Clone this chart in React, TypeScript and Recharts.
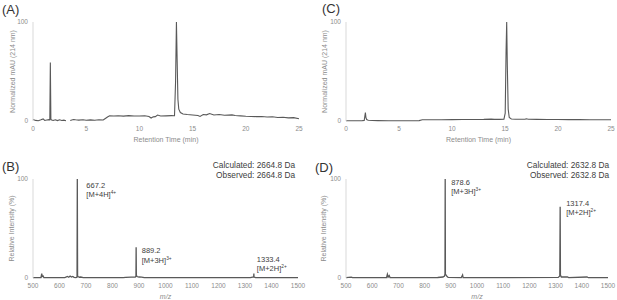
import { Label, Line, LineChart, ReferenceDot, XAxis, YAxis } from 'recharts';

// HPLC traces: retention time (min) vs normalized mAU
const chromATime = [
  0, 0.25, 0.5, 0.75, 0.95, 1.1, 1.3, 1.5, 1.58, 1.63, 1.68, 1.75, 1.9, 2.1, 2.3, 2.5, 2.7, 2.9, 3.1, 3.3,
  3.5, 3.8, 4.0, 4.3, 4.7, 5.0, 5.4, 5.8, 6.2, 6.6, 6.8, 7.0, 7.2, 7.6, 8.0, 8.5, 9.0, 9.5, 10.0, 10.5,
  10.9, 11.1, 11.3, 11.5, 11.7, 12.0, 12.5, 13.0, 13.3, 13.4, 13.48, 13.55, 13.62, 13.7, 13.85, 14.1,
  14.5, 15.0, 15.5, 15.7, 16.0, 16.3, 16.6, 17.0, 17.5, 18.0, 18.7, 19.0, 19.5, 20.0, 20.5, 21.0, 21.5,
  22.0, 22.5, 23.0, 23.5, 24.0, 24.5, 25.0,
];
const chromAValue = [
  1.5, 0.6, 0.3, 1.2, 2.1, 0.5, 1.0, 1.4, 1.2, 59, 1.8, 1.0, 0.6, 1.3, 0.4, 1.2, 0.5, 0.9, 0.3, null,
  0.6, 1.5, 1.2, 0.9, 1.3, 0.8, 1.1, 0.7, 1.2, 1.0, 2.5, 4.0, 5.2, 5.0, 5.3, 4.9, 5.4, 5.1, 5.0, 5.3,
  4.6, 3.0, 4.2, 4.4, 6.0, 5.0, 5.2, 5.4, 5.3, 40, 100, 60, 22, 12, 8.5, 7.0,
  6.5, 6.0, 5.5, 4.6, 6.5, 6.2, 7.5, 6.0, 6.6, 5.8, 6.2, 5.5, 5.2, 4.8, 4.6, 4.4, 4.5,
  4.0, 4.3, 3.6, 3.8, 3.2, 3.4, 2.3,
];

const chromCTime = [
  0, 0.5, 1.0, 1.5, 1.72, 1.78, 1.83, 1.88, 1.95, 2.1, 2.5, 3.0, 4.0, 5.0, 6.0, 6.9, 7.2, 8.0, 9.0, 10.0,
  11.0, 12.0, 13.0, 13.7, 14.0, 14.5, 14.9, 15.02, 15.1, 15.16, 15.22, 15.3, 15.4, 15.6, 16.0, 16.5,
  16.9, 17.0, 17.2, 18.0, 19.0, 20.0, 21.0, 22.0, 23.0, 24.0, 25.0,
];
const chromCValue = [
  0.2, 0.3, 0.2, 0.3, 0.6, 5, 8.5, 3.5, 1.4, 0.7, 0.5, 0.4, 0.3, 0.2, 0.3, 0.4, 1.2, 1.3, 1.3, 1.4,
  1.5, 1.5, 1.6, 1.9, 1.6, 1.6, 1.8, 8, 70, 100, 55, 12, 3.5, 2.0, 1.8, 1.7,
  1.8, 2.3, 1.7, 1.6, 1.5, 1.5, 1.4, 1.4, 1.3, 1.3, 1.2,
];

// ESI-MS spectra: m/z vs relative intensity (%)
const specBMz = [
  500, 530, 533, 535, 538, 541, 560, 620, 630, 635, 640, 645, 650, 655, 662, 666.2, 667.2, 668.2, 670,
  675, 680, 690, 700, 840, 850, 870, 886, 888.5, 889.2, 890, 892, 900, 910, 920, 1320, 1332.8, 1333.4,
  1334, 1340, 1500,
];
const specBInt = [
  0.3, 0.3, 4.5, 1.5, 2, 0.5, 0.3, 0.3, 1.5, 0.8, 2, 1, 1.5, 0.6, 0.4, 1, 100, 2, 1.5,
  0.8, 1, 0.4, 0.3, 0.3, 0.6, 0.8, 1, 2, 31, 3, 1.5, 1, 0.8, 0.3, 0.3, 1, 4.4,
  1, 0.3, 0.3,
];

const specDMz = [
  500, 520, 525, 655, 658, 661, 665, 668, 700, 850, 870, 876, 877.8, 878.6, 879.4, 882, 886, 890, 940,
  945, 947, 1000, 1310, 1316, 1317.4, 1318.4, 1322, 1345, 1350, 1420, 1425, 1500,
];
const specDInt = [
  0.3, 0.8, 0.3, 0.5, 3.7, 1, 2.5, 0.5, 0.3, 0.5, 1, 2, 4, 100, 4, 3, 1.5, 0.6, 0.4,
  3, 0.4, 0.3, 0.6, 2, 72, 3, 1, 1, 0.4, 1, 0.3, 0.3,
];

const timeTicks = [0, 5, 10, 15, 20, 25];
const mzTicks = [500, 600, 700, 800, 900, 1000, 1100, 1200, 1300, 1400, 1500];
const yTicks = [0, 100];

const peaksBMz = [667.2, 889.2, 1333.4];
const peaksBIon = ['[M+4H]', '[M+3H]', '[M+2H]'];
const peaksBCharge = ['4+', '3+', '2+'];
const peaksDMz = [878.6, 1317.4];
const peaksDIon = ['[M+3H]', '[M+2H]'];
const peaksDCharge = ['3+', '2+'];

const calculatedMass = ['2664.8', '2632.8'];
const observedMass = ['2664.8', '2632.8'];

const FONT = '"Liberation Sans", Arial, sans-serif';
const LINE = '#595959';
const AXIS = '#d9d9d9';
const TICK = '#8c8c8c';
const NOTE = '#404040';

const zip = (xs: number[], ys: (number | null)[]) => xs.map((x, i) => ({ x, y: ys[i] }));

const yTitle = (text: string, cx: number) => (props: any) => {
  const vb = props.viewBox || {};
  const cy = (vb.y ?? 0) + (vb.height ?? 0) / 2;
  return (
    <text
      x={cx}
      y={cy}
      transform={`rotate(-90 ${cx} ${cy})`}
      textAnchor='middle'
      dominantBaseline='central'
      fontSize={7}
      fill={TICK}
      fontFamily={FONT}
    >
      {text}
    </text>
  );
};

const peakLabel = (mz: number, ion: string, charge: string, dx: number, dy: number) => (props: any) => {
  const vb = props.viewBox || {};
  const x = (vb.x ?? 0) + (vb.width ?? 0) / 2 + dx;
  const y = (vb.y ?? 0) + (vb.height ?? 0) / 2 + dy;
  return (
    <text x={x} y={y} fontSize={7.5} fill={NOTE} fontFamily={FONT}>
      <tspan x={x}>{mz.toFixed(1)}</tspan>
      <tspan x={x} dy={9.5}>
        {ion}
        <tspan fontSize={4.8} dy={-3}>
          {charge}
        </tspan>
      </tspan>
    </text>
  );
};

function Chromatogram({ data, width, yWidth, right, titleX }: any) {
  return (
    <LineChart width={width} height={150} data={data} margin={{ top: 22, right, bottom: 0, left: 0 }}>
      <XAxis
        dataKey='x'
        type='number'
        domain={[0, 25]}
        ticks={timeTicks}
        interval={0}
        axisLine={false}
        tickLine={false}
        tickSize={0}
        tickMargin={5}
        height={29}
        tick={{ fontSize: 6.5, fill: TICK, fontFamily: FONT }}
      >
        <Label value='Retention Time (min)' position='insideBottom' offset={8.5} fontSize={7} fill={TICK} fontFamily={FONT} />
      </XAxis>
      <YAxis
        type='number'
        domain={[0, 100]}
        ticks={yTicks}
        width={yWidth}
        axisLine={{ stroke: AXIS }}
        tickLine={false}
        tickSize={0}
        tickMargin={5}
        tick={{ fontSize: 6.5, fill: TICK, fontFamily: FONT }}
      >
        <Label content={yTitle('Normalized mAU (214 nm)', titleX)} />
      </YAxis>
      <Line dataKey='y' type='linear' stroke={LINE} strokeWidth={1.1} dot={false} isAnimationActive={false} />
    </LineChart>
  );
}

function Spectrum({ data, width, yWidth, right, titleX, peaks }: any) {
  return (
    <LineChart width={width} height={150} data={data} margin={{ top: 29, right, bottom: 0, left: 0 }}>
      <XAxis
        dataKey='x'
        type='number'
        domain={[500, 1500]}
        ticks={mzTicks}
        interval={0}
        axisLine={false}
        tickLine={false}
        tickSize={0}
        tickMargin={5}
        height={22}
        tick={{ fontSize: 6.5, fill: TICK, fontFamily: FONT }}
      >
        <Label value='m/z' position='insideBottom' offset={1.5} fontSize={7} fill={TICK} fontFamily={FONT} fontStyle='italic' />
      </XAxis>
      <YAxis
        type='number'
        domain={[0, 100]}
        ticks={yTicks}
        width={yWidth}
        axisLine={{ stroke: AXIS }}
        tickLine={false}
        tickSize={0}
        tickMargin={5}
        tick={{ fontSize: 6.5, fill: TICK, fontFamily: FONT }}
      >
        <Label content={yTitle('Relative Intensity (%)', titleX)} />
      </YAxis>
      <Line dataKey='y' type='linear' stroke={LINE} strokeWidth={1.3} dot={false} isAnimationActive={false} />
      {peaks.map((p: any) => (
        <ReferenceDot
          key={p.mz}
          x={p.mz}
          y={p.top}
          r={0}
          fill='none'
          stroke='none'
          ifOverflow='visible'
          label={{ content: peakLabel(p.mz, p.ion, p.charge, p.dx, p.dy) }}
        />
      ))}
    </LineChart>
  );
}

// pixel offsets of each peak note from its peak top
const notesB = [
  { dx: 9, dy: 8.6 },
  { dx: 5.6, dy: 6 },
  { dx: 3, dy: -12 },
];
const notesD = [
  { dx: 6, dy: 5.6 },
  { dx: 6, dy: -1 },
];

const topOf = (mzs: number[], ints: number[], mz: number) => ints[mzs.indexOf(mz)];

const panelLabel = (text: string, left: number, top: number) => (
  <div style={{ position: 'absolute', left, top, fontSize: 13, lineHeight: '13px', color: '#333', fontFamily: FONT }}>
    {text}
  </div>
);

const massNote = (i: number, right: number, top: number) => (
  <div
    style={{
      position: 'absolute',
      left: 0,
      width: right,
      top,
      textAlign: 'right',
      fontSize: 8.3,
      lineHeight: '9.5px',
      color: NOTE,
      fontFamily: FONT,
      whiteSpace: 'nowrap',
    }}
  >
    <div>Calculated: {calculatedMass[i]} Da</div>
    <div>Observed: {observedMass[i]} Da</div>
  </div>
);

export default function App() {
  const peaksB = peaksBMz.map((mz, i) => ({
    mz,
    top: topOf(specBMz, specBInt, mz),
    ion: peaksBIon[i],
    charge: peaksBCharge[i],
    ...notesB[i],
  }));
  const peaksD = peaksDMz.map((mz, i) => ({
    mz,
    top: topOf(specDMz, specDInt, mz),
    ion: peaksDIon[i],
    charge: peaksDCharge[i],
    ...notesD[i],
  }));

  return (
    <div style={{ position: 'absolute', left: 0, top: 0, width: 617, height: 300, background: '#fff', fontFamily: FONT }}>
      <div style={{ position: 'absolute', left: 0, top: 0 }}>
        <Chromatogram data={zip(chromATime, chromAValue)} width={307} yWidth={33} right={8} titleX={12} />
      </div>
      <div style={{ position: 'absolute', left: 307, top: 0 }}>
        <Chromatogram data={zip(chromCTime, chromCValue)} width={310} yWidth={39} right={6} titleX={17} />
      </div>
      <div style={{ position: 'absolute', left: 0, top: 150 }}>
        <Spectrum data={zip(specBMz, specBInt)} width={307} yWidth={33} right={9} titleX={11} peaks={peaksB} />
      </div>
      <div style={{ position: 'absolute', left: 307, top: 150 }}>
        <Spectrum data={zip(specDMz, specDInt)} width={310} yWidth={39} right={9} titleX={16} peaks={peaksD} />
      </div>
      {panelLabel('(A)', 2, 2.5)}
      {panelLabel('(B)', 2, 160)}
      {panelLabel('(C)', 322, 1.5)}
      {panelLabel('(D)', 315, 161)}
      {massNote(0, 295, 161.3)}
      {massNote(1, 609, 161.3)}
    </div>
  );
}
